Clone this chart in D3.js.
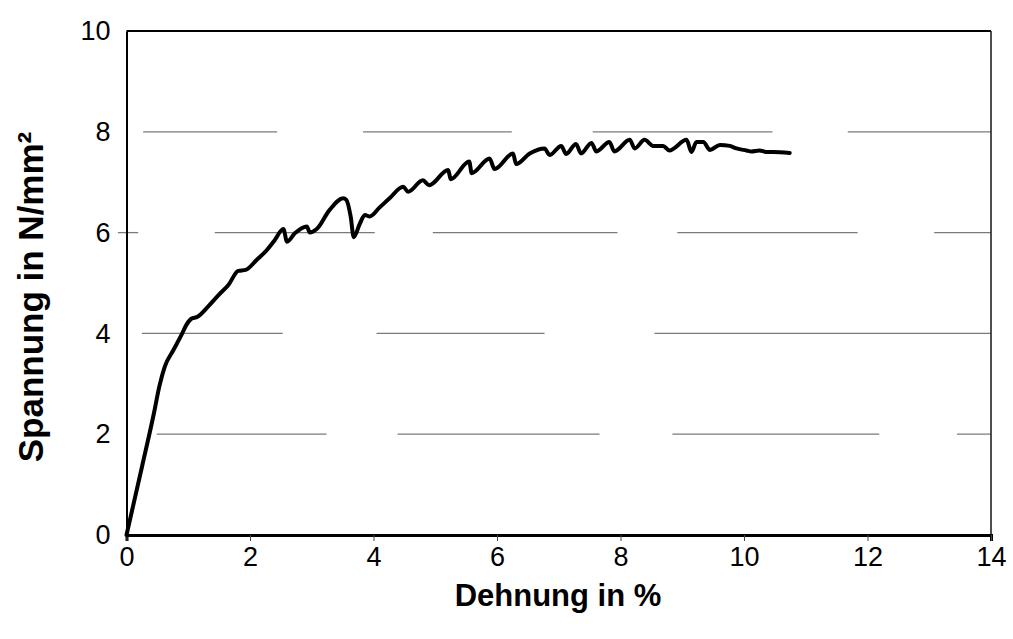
<!DOCTYPE html>
<html>
<head>
<meta charset="utf-8">
<script src="https://cdn.jsdelivr.net/npm/d3@7"></script>
<style>
  html, body { margin: 0; padding: 0; background: #fff; }
  svg { display: block; font-family: "Liberation Sans", Arial, sans-serif; }
</style>
</head>
<body>
<svg id="chart" width="1013" height="639"></svg>
<script>
// Stress-strain curve: strain (%) vs. stress (N/mm²)
const strain = [0, 0.25, 0.45, 0.53, 0.62, 0.76, 0.89, 0.97, 1.05, 1.15, 1.32, 1.49, 1.65, 1.81, 1.93, 2.11, 2.27,
  2.40, 2.54, 2.60, 2.73, 2.92, 2.97, 3.08, 3.29, 3.51, 3.56, 3.63, 3.68, 3.78, 3.86, 3.94, 4.10, 4.26,
  4.48, 4.56, 4.80, 4.90, 5.21, 5.25, 5.55, 5.59, 5.88, 5.96, 6.26, 6.31, 6.53,
  6.77, 6.85, 7.04, 7.12, 7.28, 7.36, 7.53, 7.61, 7.82, 7.90, 8.15, 8.23, 8.39, 8.53, 8.69, 8.79,
  9.07, 9.15, 9.23, 9.34, 9.45, 9.61, 9.77, 9.88, 10.04, 10.12, 10.25, 10.36, 10.47, 10.74];
const stress = [0, 1.35, 2.45, 2.94, 3.34, 3.67, 3.97, 4.17, 4.29, 4.33, 4.53, 4.76, 4.96, 5.24, 5.26, 5.46, 5.65,
  5.85, 6.07, 5.82, 5.99, 6.12, 6.00, 6.07, 6.45, 6.68, 6.65, 6.32, 5.91, 6.18, 6.35, 6.32, 6.50, 6.68,
  6.91, 6.81, 7.04, 6.94, 7.24, 7.06, 7.41, 7.18, 7.47, 7.26, 7.57, 7.36, 7.57,
  7.67, 7.54, 7.72, 7.56, 7.76, 7.57, 7.78, 7.61, 7.80, 7.61, 7.84, 7.67, 7.84, 7.72, 7.72, 7.63,
  7.84, 7.60, 7.80, 7.80, 7.64, 7.74, 7.72, 7.67, 7.63, 7.61, 7.63, 7.60, 7.60, 7.58];

const xTicks = [0, 2, 4, 6, 8, 10, 12, 14];
const yTicks = [0, 2, 4, 6, 8, 10];
const gridValues = [2, 4, 6, 8];

const xTitle = "Dehnung in %";
const yTitle = "Spannung in N/mm²";

// Printed gridlines are broken into pieces; spans in strain units per gridline
const gridSpans = {
  8: [[0.27, 2.44], [3.83, 6.24], [7.55, 10.46], [11.68, 14]],
  6: [[-0.14, 0.19], [1.43, 4.02], [4.96, 7.95], [8.92, 11.84], [13.08, 14]],
  4: [[0.25, 2.53], [4.05, 6.77], [8.55, 14]],
  2: [[0.49, 3.24], [4.39, 7.66], [8.84, 12.19], [13.45, 14]]
};

const svg = d3.select("#chart");
const plotL = 126.5, plotR = 991, plotT = 31, plotB = 535;

const x = d3.scaleLinear().domain([0, 14]).range([plotL, plotR]);
const y = d3.scaleLinear().domain([0, 10]).range([plotB, plotT]);

// gridlines
const grid = svg.append("g").attr("stroke", "#7a7a7a").attr("stroke-width", 1.3);
gridValues.forEach(v => {
  gridSpans[v].forEach(s => {
    grid.append("line")
      .attr("x1", x(s[0])).attr("x2", x(s[1]))
      .attr("y1", y(v)).attr("y2", y(v));
  });
});

// frame
svg.append("line").attr("x1", plotL).attr("x2", plotR).attr("y1", plotT).attr("y2", plotT)
  .attr("stroke", "#000").attr("stroke-width", 2);
svg.append("line").attr("x1", plotR).attr("x2", plotR).attr("y1", plotT).attr("y2", plotB)
  .attr("stroke", "#222").attr("stroke-width", 1.6);

// x axis
const xAxis = svg.append("g")
  .attr("transform", `translate(0,${plotB})`)
  .call(d3.axisBottom(x).tickValues(xTicks).tickSize(6).tickPadding(6).tickFormat(d3.format("d")));
xAxis.select(".domain").attr("stroke", "#000").attr("stroke-width", 3);
xAxis.selectAll(".tick line").attr("stroke", "#444").attr("stroke-width", 1);
xAxis.selectAll(".tick text").attr("font-size", 27).attr("fill", "#000")
  .attr("font-family", "Liberation Sans, Arial, sans-serif");

// y axis
const yAxis = svg.append("g")
  .attr("transform", `translate(${plotL},0)`)
  .call(d3.axisLeft(y).tickValues(yTicks).tickSize(0).tickPadding(16).tickFormat(d3.format("d")));
yAxis.select(".domain").attr("stroke", "#000").attr("stroke-width", 2);
yAxis.selectAll(".tick text").attr("font-size", 27).attr("fill", "#000")
  .attr("font-family", "Liberation Sans, Arial, sans-serif");

// curve
const pts = strain.map((s, i) => [s, stress[i]]);
svg.append("path")
  .datum(pts)
  .attr("fill", "none")
  .attr("stroke", "#000")
  .attr("stroke-width", 4)
  .attr("stroke-linejoin", "round")
  .attr("stroke-linecap", "round")
  .attr("d", d3.line().x(d => x(d[0])).y(d => y(d[1])).curve(d3.curveMonotoneX));

// axis titles
svg.append("text")
  .attr("x", 558).attr("y", 606)
  .attr("text-anchor", "middle")
  .attr("font-size", 31).attr("font-weight", "bold")
  .text(xTitle);

svg.append("text")
  .attr("transform", `translate(43,297) rotate(-90)`)
  .attr("text-anchor", "middle")
  .attr("font-size", 35).attr("font-weight", "bold")
  .text(yTitle);
</script>
</body>
</html>
